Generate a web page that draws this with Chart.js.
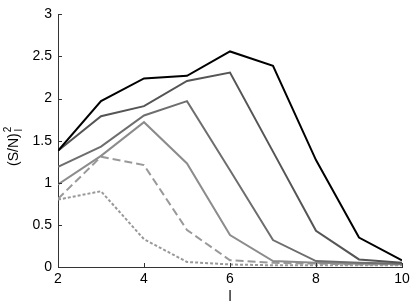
<!DOCTYPE html>
<html>
<head>
<meta charset="utf-8">
<script src="https://cdn.jsdelivr.net/npm/chart.js@4"></script>
<style>
  html, body { margin: 0; padding: 0; background: #fff; }
  #wrap { width: 415px; height: 306px; position: relative; }
</style>
</head>
<body>
<div id="wrap"><canvas id="chart" width="415" height="306"></canvas></div>
<script>
// values
const ells = [2, 3, 4, 5, 6, 7, 8, 9, 10];
const seriesA = [1.38, 1.97, 2.24, 2.27, 2.56, 2.39, 1.27, 0.35, 0.08];
const seriesB = [1.38, 1.79, 1.91, 2.21, 2.31, 1.37, 0.43, 0.09, 0.05];
const seriesC = [1.19, 1.43, 1.80, 1.97, 1.15, 0.32, 0.07, 0.05, 0.04];
const seriesD = [0.98, 1.32, 1.72, 1.23, 0.38, 0.07, 0.05, 0.04, 0.04];
const seriesE = [0.81, 1.31, 1.21, 0.44, 0.08, 0.05, 0.04, 0.03, 0.03];
const seriesF = [0.80, 0.90, 0.33, 0.06, 0.03, 0.02, 0.02, 0.02, 0.02];
const xTicks = [2, 4, 6, 8, 10];
const yTicks = [0, 0.5, 1, 1.5, 2, 2.5, 3];

const FONT = 'Liberation Sans, Arial, sans-serif';

function pts(vals) {
    return vals.map((v, i) => ({ x: ells[i], y: v }));
}

function line(vals, color, dash) {
    return {
        data: pts(vals),
        borderColor: color,
        borderWidth: 2,
        borderDash: dash || [],
        pointRadius: 0,
        tension: 0,
        fill: false
    };
}

// inward tick marks + axis titles (MATLAB style)
const axisExtras = {
    id: 'axisExtras',
    afterDraw(chart) {
        const ctx = chart.ctx;
        const xs = chart.scales.x, ys = chart.scales.y;
        const area = chart.chartArea;
        ctx.save();
        ctx.strokeStyle = '#333';
        ctx.lineWidth = 1;
        ctx.beginPath();
        xTicks.forEach(t => {
            const px = Math.round(xs.getPixelForValue(t)) + 0.5;
            ctx.moveTo(px, area.bottom);
            ctx.lineTo(px, area.bottom - 4);
        });
        yTicks.forEach(t => {
            const py = Math.round(ys.getPixelForValue(t)) + 0.5;
            ctx.moveTo(area.left, py);
            ctx.lineTo(area.left + 4, py);
        });
        ctx.stroke();

        ctx.fillStyle = '#000';
        // x title
        ctx.font = '14px ' + FONT;
        ctx.textAlign = 'center';
        ctx.textBaseline = 'alphabetic';
        ctx.fillText('l', (area.left + area.right) / 2, 301);

        // y title: (S/N) with superscript 2 and subscript l
        ctx.translate(18, 166);
        ctx.rotate(-Math.PI / 2);
        ctx.textAlign = 'left';
        ctx.font = '14px ' + FONT;
        ctx.fillText('(S/N)', 0, 0);
        const w = ctx.measureText('(S/N)').width;
        ctx.font = '10px ' + FONT;
        ctx.fillText('2', w + 1, -7);
        ctx.fillText('l', w + 2, 4);
        ctx.restore();
    }
};

new Chart(document.getElementById('chart'), {
    type: 'line',
    data: {
        datasets: [
            line(seriesA, '#000000'),
            line(seriesB, '#555555'),
            line(seriesC, '#6e6e6e'),
            line(seriesD, '#8c8c8c'),
            line(seriesE, '#999999', [8, 4]),
            line(seriesF, '#999999', [3, 2])
        ]
    },
    options: {
        responsive: false,
        animation: false,
        layout: { padding: { left: 0, top: 13, right: 13, bottom: 0 } },
        plugins: {
            legend: { display: false },
            tooltip: { enabled: false }
        },
        scales: {
            x: {
                type: 'linear',
                min: 2,
                max: 10,
                afterFit(scale) { scale.height = 39; },
                afterBuildTicks(scale) { scale.ticks = xTicks.map(v => ({ value: v })); },
                grid: { display: false, drawTicks: false },
                border: { display: true, color: '#333', width: 1 },
                ticks: { color: '#000', font: { family: FONT, size: 14 }, padding: 4, maxRotation: 0, callback: v => String(v) }
            },
            y: {
                min: 0,
                max: 3,
                afterFit(scale) { scale.width = 58; },
                afterBuildTicks(scale) { scale.ticks = yTicks.map(v => ({ value: v })); },
                grid: { display: false, drawTicks: false },
                border: { display: true, color: '#333', width: 1 },
                ticks: { color: '#000', font: { family: FONT, size: 14 }, padding: 6, callback: v => String(v) }
            }
        }
    },
    plugins: [axisExtras]
});
</script>
</body>
</html>
